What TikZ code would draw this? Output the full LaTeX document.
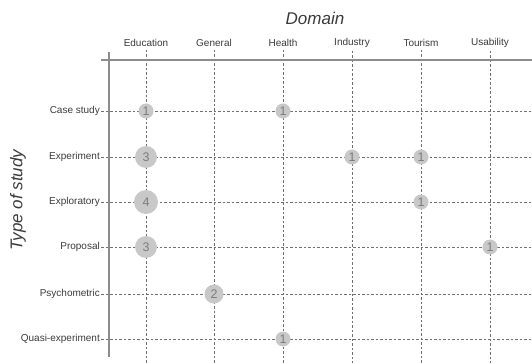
\documentclass[tikz,border=0pt]{standalone}
\usepackage{fontspec}
\setmainfont{Liberation Sans}
\usetikzlibrary{positioning}

\definecolor{gridgray}{HTML}{707070}
\definecolor{axisgray}{HTML}{8C8C8C}
\definecolor{bubblefill}{HTML}{C8C8C8}
\definecolor{bubbletext}{HTML}{7C7C7C}
\definecolor{labelgray}{HTML}{3A3A3A}

\tikzset{
  collabel/.style={font=\fontsize{10}{12}\selectfont, text=labelgray, inner sep=1pt},
  rowlabel/.style={font=\fontsize{10}{12}\selectfont, text=labelgray, anchor=east, inner sep=1pt},
  gridline/.style={gridgray, line width=0.9pt, dash pattern=on 2.5pt off 2pt},
  axisline/.style={axisgray, line width=1.3pt},
  bubble/.style={circle, fill=bubblefill, text=bubbletext, inner sep=0pt,
                 font=\fontsize{12.5}{12.5}\selectfont},
  titletext/.style={font=\fontsize{17}{19}\selectfont\itshape, text=labelgray}
}

\begin{document}
\begin{tikzpicture}[x=1pt, y=-1pt]
  \useasboundingbox (0,0) rectangle (532,363);
  % Titulos dos eixos
  \node[titletext] (domain) at (315,18) {Domain};
  \node[titletext, rotate=90] (studytype) at (18,200) {Type of study};
  % Colunas (dominio)
  \node[collabel] (education) at (146,43) {Education};
  \node[collabel] (general) at (214,43) {General};
  \node[collabel] (health) at (283,43) {Health};
  \node[collabel] (industry) at (352,43) {Industry};
  \node[collabel] (tourism) at (421,43) {Tourism};
  \node[collabel] (usability) at (490,43) {Usability};
  % Linhas (tipo de estudo)
  \node[rowlabel] (casestudy) at (101,111) {Case study};
  \node[rowlabel] (experiment) at (101,157) {Experiment};
  \node[rowlabel] (exploratory) at (101,202) {Exploratory};
  \node[rowlabel] (proposal) at (101,247) {Proposal};
  \node[rowlabel] (psychometric) at (101,294) {Psychometric};
  \node[rowlabel] (quasi) at (101,339) {Quasi-experiment};
  % Fins das linhas pontilhadas
  \coordinate (education-end) at (146,363);
  \coordinate (general-end) at (214,363);
  \coordinate (health-end) at (283,363);
  \coordinate (industry-end) at (352,363);
  \coordinate (tourism-end) at (421,363);
  \coordinate (usability-end) at (490,363);
  \coordinate (casestudy-end) at (532,111);
  \coordinate (experiment-end) at (532,157);
  \coordinate (exploratory-end) at (532,202);
  \coordinate (proposal-end) at (532,247);
  \coordinate (psychometric-end) at (532,294);
  \coordinate (quasi-end) at (532,339);
  % Grade pontilhada
  \foreach \c in {education, general, health, industry, tourism, usability}
    \draw[gridline] ([yshift=-2pt]\c.south) -- (\c-end);
  \foreach \r in {casestudy, experiment, exploratory, proposal, psychometric, quasi}
    \draw[gridline] (\r.east) -- (\r-end);
  % Eixos
  \coordinate (vaxis-top) at (109,52);
  \coordinate (vaxis-bottom) at (109,357);
  \coordinate (haxis-left) at (101,60);
  \coordinate (haxis-right) at (532,60);
  \draw[axisline] (vaxis-top) -- (vaxis-bottom);
  \draw[axisline] (haxis-left) -- (haxis-right);
  % Bolhas
  \node[bubble, minimum size=15pt] (b-edu-case) at (education |- casestudy) {1};
  \node[bubble, minimum size=15pt] (b-hea-case) at (health |- casestudy) {1};
  \node[bubble, minimum size=22pt] (b-edu-exp) at (education |- experiment) {3};
  \node[bubble, minimum size=15pt] (b-ind-exp) at (industry |- experiment) {1};
  \node[bubble, minimum size=15pt] (b-tou-exp) at (tourism |- experiment) {1};
  \node[bubble, minimum size=24pt] (b-edu-expl) at (education |- exploratory) {4};
  \node[bubble, minimum size=15pt] (b-tou-expl) at (tourism |- exploratory) {1};
  \node[bubble, minimum size=22pt] (b-edu-prop) at (education |- proposal) {3};
  \node[bubble, minimum size=15pt] (b-usa-prop) at (usability |- proposal) {1};
  \node[bubble, minimum size=19pt] (b-gen-psy) at (general |- psychometric) {2};
  \node[bubble, minimum size=15pt] (b-hea-quasi) at (health |- quasi) {1};
\end{tikzpicture}
\end{document}
